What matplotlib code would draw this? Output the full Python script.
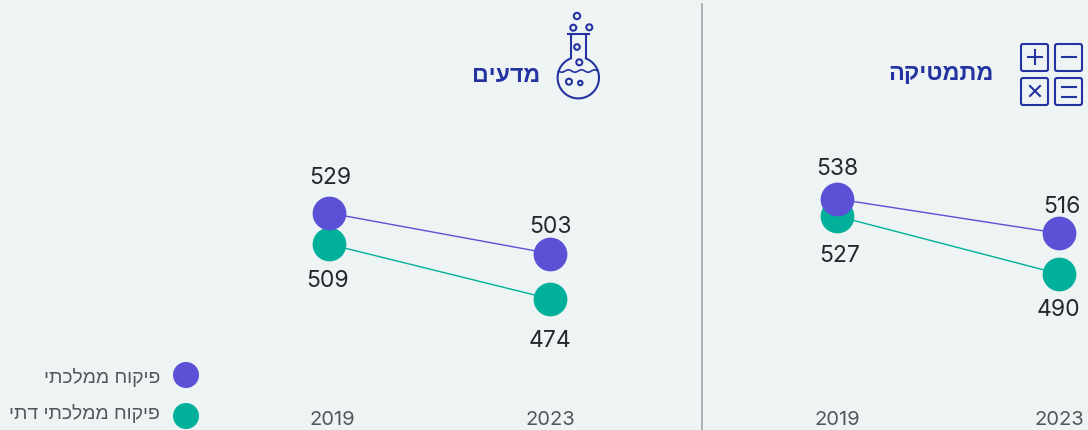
import matplotlib
matplotlib.use('Agg')
import matplotlib.pyplot as plt
from matplotlib.patches import Circle, FancyBboxPatch
from matplotlib.transforms import ScaledTranslation
import numpy as np

years = [2019, 2023]
math_state = [538, 516]
math_religious = [527, 490]
science_state = [529, 503]
science_religious = [509, 474]
legend_labels = ['פיקוח ממלכתי', 'פיקוח ממלכתי דתי']
title_math = 'מתמטיקה'
title_science = 'מדעים'

W, H = 1088, 430
BG = '#EEF4F4'
PURPLE = '#5B50D6'
GREEN = '#00B09B'
NAVY = '#2433A0'
HEB = ['Liberation Sans', 'DejaVu Sans']
NUM = ['Inter', 'DejaVu Sans']


def heb(s):
    # matplotlib does not reorder right to left text
    return s[::-1]


def make_panel(x2019, x2023, state, religious, offsets):
    # axes goes from the top of the figure down to y=405 px, same y scale on both panels
    left = 0 if x2019 < 500 else 703
    right = 701 if x2019 < 500 else W
    ax = fig.add_axes([left / W, (H - 405) / H, (right - left) / W, 405 / H])
    ax.set_facecolor('none')
    px_per_year = (x2023 - x2019) / (years[1] - years[0])
    ax.set_xlim(years[0] - (x2019 - left) / px_per_year, years[1] + (right - x2023) / px_per_year)
    ax.set_ylim(529 - (405 - 213) / 1.56, 529 + 213 / 1.56)
    ax.plot(years, religious, color=GREEN, lw=1.0, zorder=1)
    ax.plot(years, state, color=PURPLE, lw=1.0, zorder=1)
    ax.scatter(years, religious, s=590, color=GREEN, linewidths=0, zorder=2, clip_on=False)
    ax.scatter(years, state, s=590, color=PURPLE, linewidths=0, zorder=3, clip_on=False)
    for series, offs in zip((state, religious), offsets):
        for yr, v, off in zip(years, series, offs):
            ax.annotate(str(v), (yr, v), xytext=off, textcoords='offset pixels', ha='center', va='center',
                        fontsize=16.5, family=NUM, color='#26262B')
    for sp in ax.spines.values():
        sp.set_visible(False)
    ax.set_yticks([])
    ax.set_xticks(years)
    ax.set_xticklabels([str(y) for y in years], family=NUM, fontsize=14.5, color='#555559')
    ax.tick_params(axis='x', length=0, pad=4.5)
    return ax


fig = plt.figure(figsize=(W / 100, H / 100), dpi=100, facecolor=BG)

ax_sci = make_panel(329, 550, science_state, science_religious,
                    [[(1, 35), (0, 27)], [(-1, -37), (0, -42)]])
ax_math = make_panel(837, 1059, math_state, math_religious,
                     [[(0, 30), (3, 26)], [(3, -40), (-1, -36)]])
for lab in ax_sci.get_xticklabels()[:1]:
    lab.set_transform(lab.get_transform() + ScaledTranslation(3 / 100, 0, fig.dpi_scale_trans))

# overlay in pixel coordinates for divider, legend, titles and icons
ov = fig.add_axes([0, 0, 1, 1])
ov.set_xlim(0, W)
ov.set_ylim(H, 0)
ov.axis('off')
ov.set_facecolor('none')
ov.plot([702, 702], [4, H], color='#9A9FA3', lw=1.1)

ov.text(540, 76, heb(title_science), ha='right', va='center', family=HEB, fontweight='bold', fontsize=16.7, color=NAVY)
ov.text(993.5, 73, heb(title_math), ha='right', va='center', family=HEB, fontweight='bold', fontsize=16.9, color=NAVY)

for y, c in zip([375, 416], [PURPLE, GREEN]):
    ov.add_patch(Circle((186, y), 13, color=c, lw=0))
for y, lab in zip([378, 414], legend_labels):
    ov.text(160, y, heb(lab), ha='right', va='center', family=HEB, fontsize=13.95, color='#55555A')

# math icon
lw = 1.5
for x0, y0 in [(1021, 44), (1055, 44), (1021, 78), (1055, 78)]:
    ov.add_patch(FancyBboxPatch((x0 + 1, y0 + 1), 25, 25, boxstyle='round,pad=1,rounding_size=2',
                                fc='none', ec=NAVY, lw=lw))
ov.plot([1028, 1042], [57, 57], color=NAVY, lw=lw)
ov.plot([1035, 1035], [50, 64], color=NAVY, lw=lw)
ov.plot([1062, 1076], [57, 57], color=NAVY, lw=lw)
ov.plot([1030, 1040], [86, 96], color=NAVY, lw=lw)
ov.plot([1030, 1040], [96, 86], color=NAVY, lw=lw)
ov.plot([1062, 1076], [87, 87], color=NAVY, lw=lw)
ov.plot([1062, 1076], [96.5, 96.5], color=NAVY, lw=lw)

# flask icon
cx, cy, r, hw = 578.3, 77.7, 20.7, 7.7
start = np.arcsin(hw / r)
t = np.linspace(start, 2 * np.pi - start, 80)
ov.plot(cx + r * np.sin(t), cy - r * np.cos(t), color=NAVY, lw=lw)
ov.plot([cx - hw, cx - hw], [34, cy - r * np.cos(start)], color=NAVY, lw=lw)
ov.plot([cx + hw, cx + hw], [34, cy - r * np.cos(start)], color=NAVY, lw=lw)
ov.plot([567.7, 589], [34, 34], color=NAVY, lw=lw)
for bx, by, br in [(577, 16, 3.2), (573.3, 27.7, 3), (589.3, 27.3, 3), (577, 47, 2.8), (579.3, 62.3, 3),
                   (569, 81.7, 3), (580.3, 83, 2.2)]:
    ov.add_patch(Circle((bx, by), br, fc='none', ec=NAVY, lw=lw))
wx = np.linspace(558.5, 598, 60)
ov.plot(wx, 71 + 1.2 * np.sin((wx - 558.5) / 39.5 * 2 * np.pi * 3), color=NAVY, lw=1.2)

fig.savefig('out.png', dpi=100, facecolor=BG)
